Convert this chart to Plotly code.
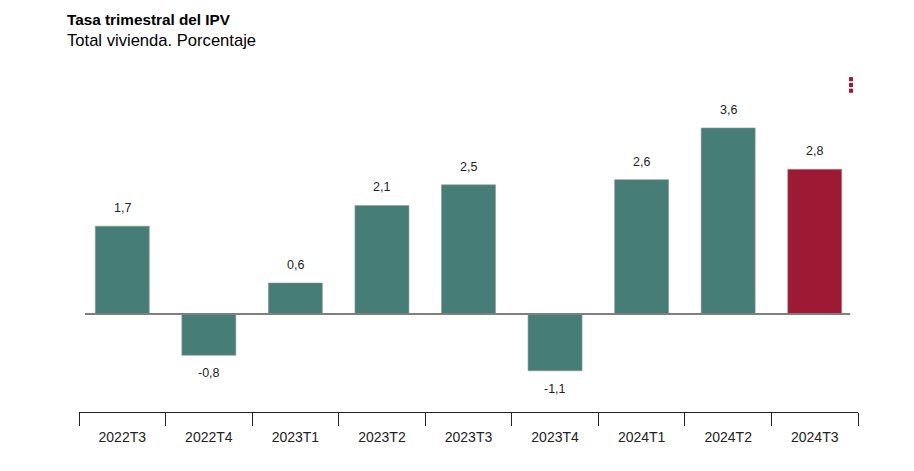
import plotly.graph_objects as go

categories = ["2022T3", "2022T4", "2023T1", "2023T2", "2023T3", "2023T4", "2024T1", "2024T2", "2024T3"]
values = [1.7, -0.8, 0.6, 2.1, 2.5, -1.1, 2.6, 3.6, 2.8]
labels = ["1,7", "-0,8", "0,6", "2,1", "2,5", "-1,1", "2,6", "3,6", "2,8"]

TEAL = "#467e77"
RED = "#9e1933"
colors = [TEAL] * (len(values) - 1) + [RED]
FONT = "Liberation Sans, Arial, sans-serif"

fig = go.Figure()
fig.add_trace(go.Bar(
    x=categories, y=values,
    marker=dict(color=colors, line=dict(color="rgba(150,150,150,0.6)", width=1)),
    hoverinfo="x+y",
))

annotations = []
for c, v, t in zip(categories, values, labels):
    annotations.append(dict(
        x=c, y=v, xref="x", yref="y", text=t, showarrow=False,
        yanchor="middle", yshift=18 if v >= 0 else -18,
        font=dict(family=FONT, size=12.5, color="#222222"),
    ))

annotations.append(dict(
    xref="paper", yref="paper", x=-0.018, y=1.228, xanchor="left", yanchor="middle",
    text="<b>Tasa trimestral del IPV</b>", showarrow=False,
    font=dict(family=FONT, size=15.3, color="#000000"),
))
annotations.append(dict(
    xref="paper", yref="paper", x=-0.018, y=1.160, xanchor="left", yanchor="middle",
    text="Total vivienda. Porcentaje", showarrow=False,
    font=dict(family=FONT, size=16.6, color="#000000"),
))

shapes = [
    dict(type="line", xref="paper", yref="y", x0=0.0077, x1=0.990, y0=0, y1=0,
         line=dict(color="#7f7f7f", width=2)),
]
# menu icon (three dots)
for yc in [1.040, 1.022, 1.004]:
    shapes.append(dict(type="rect", xref="paper", yref="paper",
                       x0=0.9885, x1=0.9936, y0=yc - 0.0065, y1=yc + 0.0065,
                       fillcolor=RED, line=dict(width=0)))

fig.update_layout(
    width=914, height=471,
    margin=dict(l=79, r=56, t=92, b=59),
    paper_bgcolor="white", plot_bgcolor="white",
    bargap=0.376,
    showlegend=False,
    annotations=annotations,
    shapes=shapes,
    font=dict(family=FONT, size=12, color="#222222"),
    xaxis=dict(
        showline=True, linecolor="#222222", linewidth=1,
        ticks="outside", tickson="boundaries", ticklen=13, tickcolor="#222222", tickwidth=1,
        showgrid=False, tickfont=dict(family=FONT, size=14, color="#222222"),
        ticklabelstandoff=12,
        fixedrange=True,
    ),
    yaxis=dict(
        range=[-1.897, 4.296], showticklabels=False, showgrid=False,
        zeroline=False, showline=False, fixedrange=True,
    ),
)

fig.write_html(
    "out.html",
    config={"displayModeBar": False},
    post_script="document.body.style.margin='0';document.body.style.padding='0';",
)
